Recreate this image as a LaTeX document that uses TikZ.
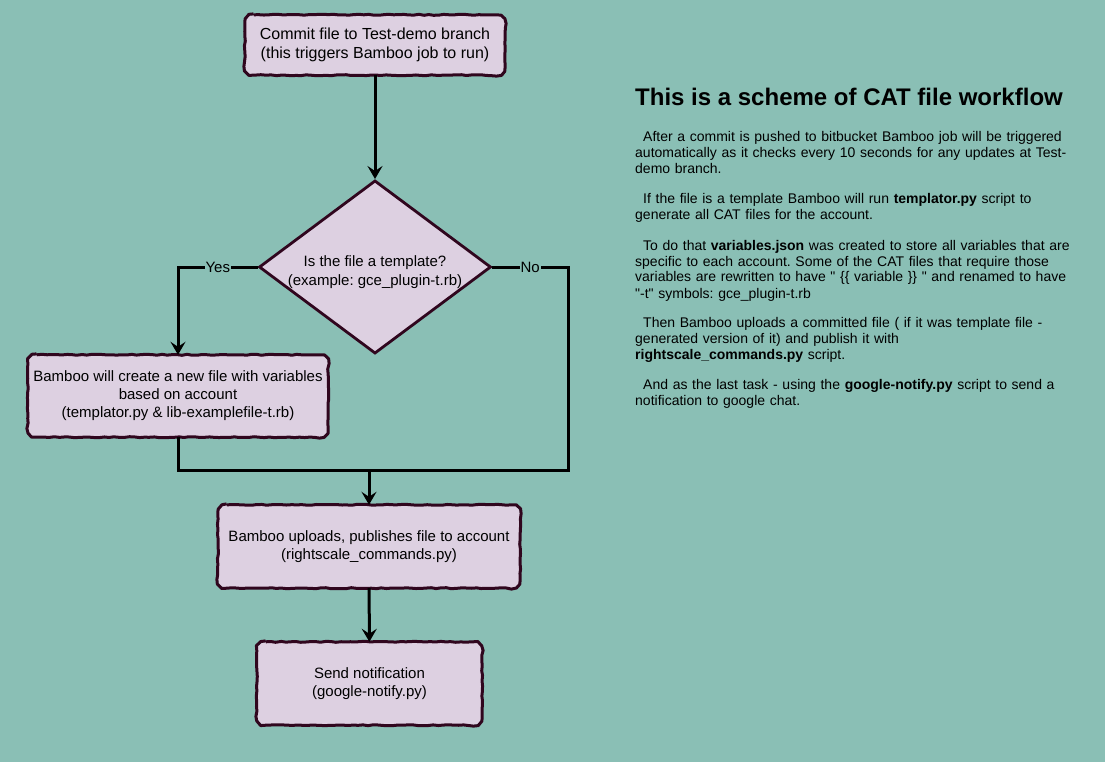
\documentclass[tikz,border=0pt]{standalone}
\usepackage{fontspec}
\setmainfont{Liberation Sans}[Ligatures=TeXOff]
\usetikzlibrary{shapes.geometric,arrows.meta,decorations.pathmorphing}
\definecolor{bg}{RGB}{138,191,181}
\definecolor{boxfill}{RGB}{221,208,225}
\definecolor{boxline}{RGB}{48,6,30}
\newcommand\wobbleborder[1]{%
  \draw[rimline] ([xshift=9pt]#1.north west) -- ([xshift=-9pt]#1.north east)
    arc[start angle=90, end angle=0, radius=9pt] -- ([yshift=9pt]#1.south east)
    arc[start angle=0, end angle=-90, radius=9pt] -- ([xshift=9pt]#1.south west)
    arc[start angle=-90, end angle=-180, radius=9pt] -- ([yshift=-9pt]#1.north west)
    arc[start angle=180, end angle=90, radius=9pt] -- cycle;}
\begin{document}
\frenchspacing
\begin{tikzpicture}[x=1pt,y=-1pt,
  rimline/.style={draw=boxline, line width=3pt, line join=round,
    decorate, decoration={random steps, segment length=5pt, amplitude=0.5pt}},
  box/.style={fill=boxfill, rounded corners=9pt,
    align=center, font=\fontsize{15}{18}\selectfont, inner sep=0pt},
  dia/.style={diamond, draw=boxline, fill=boxfill, line width=2.8pt, aspect=1.34,
    minimum width=230pt, minimum height=172pt, inner sep=0pt, align=center,
    font=\fontsize{15}{19}\selectfont},
  line/.style={draw=black, line width=3pt},
  conn/.style={line, -{Stealth[length=13pt,width=15pt,inset=5pt]}},
  lbl/.style={fill=bg, inner sep=1pt, font=\fontsize{15}{18}\selectfont},
  para/.style={anchor=base west, text width=460pt, align=left, inner sep=0pt,
    font=\fontsize{14}{16}\selectfont},
  ttl/.style={anchor=base west, inner sep=0pt, font=\bfseries\fontsize{24}{28}\selectfont}]
\pgfmathsetseed{7}
\fill[bg] (0,0) rectangle (1105,762);
\useasboundingbox (0,0) rectangle (1105,762);

\node[box, minimum width=260pt, minimum height=60pt, font=\fontsize{16}{19}\selectfont] (commit) at (375,45)
  {Commit file to Test-demo branch\\(this triggers Bamboo job to run)};
\node[dia] (decide) at (375,267)
  {\\[2pt]Is the file a template?\\(example: gce\_plugin-t.rb)};
\node[box, minimum width=300pt, minimum height=82pt] (create) at (178,396)
  {Bamboo will create a new file with variables\\based on account\\(templator.py \& lib-examplefile-t.rb)};
\node[box, minimum width=302pt, minimum height=83pt] (upload) at (369,546.5)
  {Bamboo uploads, publishes file to account\\(rightscale\_commands.py)};
\node[box, minimum width=225pt, minimum height=83pt] (notify) at (369.5,683.5)
  {Send notification\\(google-notify.py)};
\wobbleborder{commit}
\wobbleborder{create}
\wobbleborder{upload}
\wobbleborder{notify}

\coordinate (yesc) at (178,267);
\coordinate (noc) at (568,267);
\coordinate (join) at (369,470);

\draw[conn] (commit) -- (decide);
\draw[conn] (decide.west) -- node[lbl]{Yes} (yesc) -- (create.north -| yesc);
\draw[line] (decide.east) -- node[lbl]{No} (noc) -- (noc |- join) -- (join);
\draw[line] (create.south) -- (create.south |- join) -- (join);
\draw[conn] (join) -- (upload.north);
\draw[conn] (upload) -- (notify);

\node[ttl] (title) at (635,106) {This is a scheme of CAT file workflow};
\node[para] (p1) at (635,142) {\hspace*{8pt}After a commit is pushed to bitbucket Bamboo job will be triggered\\automatically as it checks every 10 seconds for any updates at Test-\\demo branch.};
\node[para] (p2) at (635,204) {\hspace*{8pt}If the file is a template Bamboo will run \textbf{templator.py} script to\\generate all CAT files for the account.};
\node[para] (p3) at (635,250) {\hspace*{8pt}To do that \textbf{variables.json} was created to store all variables that are\\specific to each account. Some of the CAT files that require those\\variables are rewritten to have " \{\{ variable \}\} " and renamed to have\\"-t" symbols: gce\_plugin-t.rb};
\node[para] (p4) at (635,327) {\hspace*{8pt}Then Bamboo uploads a committed file ( if it was template file -\\generated version of it) and publish it with\\\textbf{rightscale\_commands.py} script.};
\node[para] (p5) at (635,389) {\hspace*{8pt}And as the last task - using the \textbf{google-notify.py} script to send a\\notification to google chat.};
\end{tikzpicture}
\end{document}
